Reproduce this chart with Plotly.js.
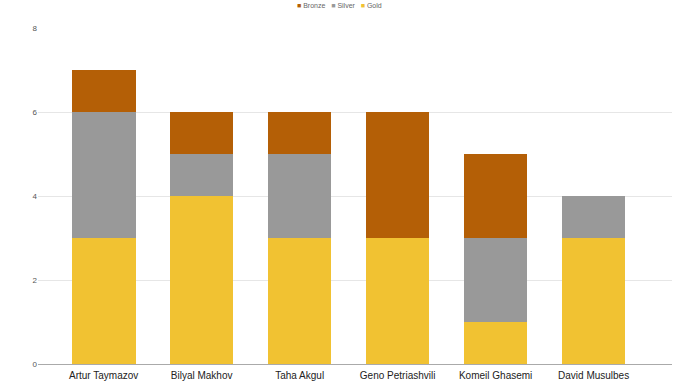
<!DOCTYPE html>
<html><head><meta charset="utf-8">
<script src="https://cdn.plot.ly/plotly-3.0.1.min.js"></script>
<style>html,body{margin:0;padding:0;background:#fff}#c{width:680px;height:382px}</style>
</head><body><div id="c"></div>
<script>
const athletes = ["Artur Taymazov","Bilyal Makhov","Taha Akgul","Geno Petriashvili","Komeil Ghasemi","David Musulbes"];
const gold = [3,4,3,3,1,3];
const silver = [3,1,2,0,2,1];
const bronze = [1,1,1,3,2,0];
const yTicks = [0,2,4,6,8];
const seriesNames = ["Gold","Silver","Bronze"];
const seriesColors = ["#f1c232","#999999","#b45f06"];

const values = [gold, silver, bronze];
const data = values.map((v,i) => ({type:"bar", name:seriesNames[i], x:athletes, y:v,
  marker:{color:seriesColors[i]}, showlegend:false}));

const legendText = [2,1,0].map(i =>
  '<span style="color:' + seriesColors[i] + '">■</span> ' + seriesNames[i]).join('   ');

const layout = {
  width:680, height:382, barmode:"stack", bargap:0.35,
  margin:{l:38, r:8, t:28, b:18},
  paper_bgcolor:"#fff", plot_bgcolor:"#fff",
  font:{family:"Liberation Sans, Arial, sans-serif", color:"#222"},
  showlegend:false,
  annotations:[{xref:"paper", yref:"paper", x:0.475, y:1+23/336, xanchor:"center", yanchor:"middle",
    text:legendText, showarrow:false, font:{size:7, color:"#666"}}],
  xaxis:{range:[-0.67,5.8], tickfont:{size:10, color:"#222"}, showgrid:false, ticks:"outside", ticklen:2,
         tickcolor:"rgba(0,0,0,0)", showline:false, automargin:false},
  yaxis:{range:[0,8], tickvals:yTicks, tickfont:{size:8, color:"#555"}, gridcolor:"#e6e6e6", gridwidth:1,
         zeroline:true, zerolinecolor:"#aaaaaa", zerolinewidth:1, ticks:"", showline:false, automargin:false}
};
Plotly.newPlot("c", data, layout, {displayModeBar:false, staticPlot:true});
</script></body></html>
